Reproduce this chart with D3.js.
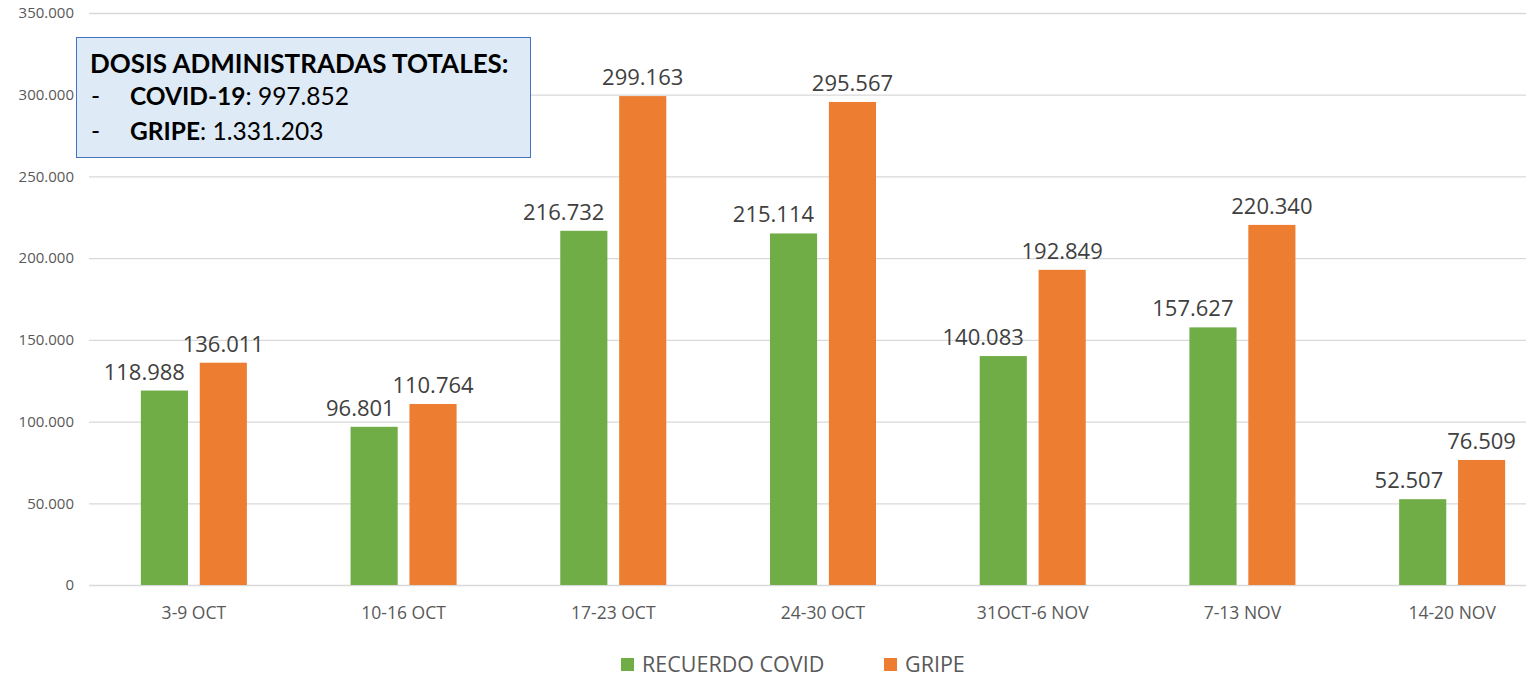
<!DOCTYPE html>
<meta charset="utf-8">
<style>
body { margin: 0; background: #fff; }
svg { display: block; }
.grid line { stroke: #D9D9D9; stroke-width: 1.3; }
.grid path { display: none; }
.axis--y path, .axis--y line, .axis--x path, .axis--x line { display: none; }
.axis text { fill: #595959; font-family: "Open Sans", sans-serif; }
.value { fill: #404040; font-family: "Open Sans", sans-serif; font-size: 22px; }
.legend text { fill: #595959; font-family: "Open Sans", sans-serif; font-size: 21.5px; }
.note text { font-family: Lato, "Open Sans", sans-serif; fill: #000; }
</style>
<body>
<svg width="1526" height="677"></svg>
<script src="https://d3js.org/d3.v7.min.js"></script>
<script>

var weeks = ["3-9 OCT", "10-16 OCT", "17-23 OCT", "24-30 OCT", "31OCT-6 NOV", "7-13 NOV", "14-20 NOV"];
var seriesNames = ["RECUERDO COVID", "GRIPE"];
var covid = [118988, 96801, 216732, 215114, 140083, 157627, 52507];
var gripe = [136011, 110764, 299163, 295567, 192849, 220340, 76509];
var yTicks = [0, 50000, 100000, 150000, 200000, 250000, 300000, 350000];
var colors = ["#70AD47", "#ED7D31"];

var svg = d3.select("svg"),
    plotLeft = 89, plotRight = 1557, plotTop = 13, plotBottom = 585;

var es = d3.formatLocale({decimal: ",", thousands: ".", grouping: [3], currency: ["", "€"]});
var fmt = es.format(",");

var x0 = d3.scaleBand().domain(weeks).range([plotLeft, plotRight]);
var x1 = d3.scaleBand().domain(seriesNames).range([0, x0.bandwidth()])
    .paddingInner(0.2).paddingOuter(0.88);
var y = d3.scaleLinear().domain([0, 350000]).range([plotBottom, plotTop]);
var color = d3.scaleOrdinal().domain(seriesNames).range(colors);

// gridlines
svg.append("g")
    .attr("class", "grid")
    .attr("transform", "translate(" + plotLeft + ",0)")
    .call(d3.axisRight(y).tickValues(yTicks).tickSize(1526 - plotLeft).tickFormat(""));

var yAxis = svg.append("g")
    .attr("class", "axis axis--y")
    .attr("transform", "translate(74,0)")
    .call(d3.axisLeft(y).tickValues(yTicks).tickSize(0).tickPadding(0).tickFormat(fmt));
yAxis.selectAll("text").style("font-size", "15px").attr("dy", "0.32em");

var xAxis = svg.append("g")
    .attr("class", "axis axis--x")
    .attr("transform", "translate(0," + plotBottom + ")")
    .call(d3.axisBottom(x0).tickSize(0).tickPadding(0));
xAxis.selectAll("text").style("font-size", "17.5px").attr("y", 28).attr("dy", "0.32em");

var rows = weeks.map(function(w, i) {
  return {week: w, values: [{key: seriesNames[0], value: covid[i]}, {key: seriesNames[1], value: gripe[i]}]};
});

var groups = svg.selectAll(".week")
  .data(rows)
  .enter().append("g")
    .attr("class", "week")
    .attr("transform", function(d) { return "translate(" + x0(d.week) + ",0)"; });

groups.selectAll("rect")
  .data(function(d) { return d.values; })
  .enter().append("rect")
    .attr("x", function(d) { return x1(d.key); })
    .attr("y", function(d) { return y(d.value); })
    .attr("width", x1.bandwidth())
    .attr("height", function(d) { return plotBottom - y(d.value); })
    .attr("fill", function(d) { return color(d.key); });

// covid labels sit a bit to the left so they don't collide with the gripe ones
groups.selectAll(".value")
  .data(function(d) { return d.values; })
  .enter().append("text")
    .attr("class", "value")
    .attr("text-anchor", function(d, i) { return i === 0 ? "end" : "middle"; })
    .attr("x", function(d, i) {
      return i === 0 ? x1(d.key) + x1.bandwidth() - 3 : x1(d.key) + x1.bandwidth() / 2;
    })
    .attr("y", function(d) { return y(d.value) - 11; })
    .text(function(d) { return fmt(d.value); });

// legend
var legend = svg.append("g").attr("class", "legend");
var legendX = [621, 884];
seriesNames.forEach(function(s, i) {
  legend.append("rect")
    .attr("x", legendX[i]).attr("y", 658)
    .attr("width", 13).attr("height", 13)
    .attr("fill", color(s));
  legend.append("text")
    .attr("x", legendX[i] + 21).attr("y", 671.5)
    .text(s);
});

// note box
var note = svg.append("g").attr("class", "note");
note.append("rect")
  .attr("x", 76.5).attr("y", 37.5)
  .attr("width", 454).attr("height", 120)
  .attr("fill", "#DEEBF7")
  .attr("stroke", "#4472C4")
  .attr("stroke-width", 1);

note.append("text")
  .attr("x", 90).attr("y", 73)
  .style("font-size", "26px").style("font-weight", "bold")
  .text("DOSIS ADMINISTRADAS TOTALES:");

var lines = [["COVID-19", ": 997.852"], ["GRIPE", ": 1.331.203"]];
lines.forEach(function(l, i) {
  var yy = 105 + i * 35;
  note.append("text").attr("x", 91).attr("y", yy).style("font-size", "24.5px").text("-");
  var t = note.append("text").attr("x", 130).attr("y", yy).style("font-size", "24.5px");
  t.append("tspan").style("font-weight", "bold").text(l[0]);
  t.append("tspan").text(l[1]);
});

</script>
</body>
